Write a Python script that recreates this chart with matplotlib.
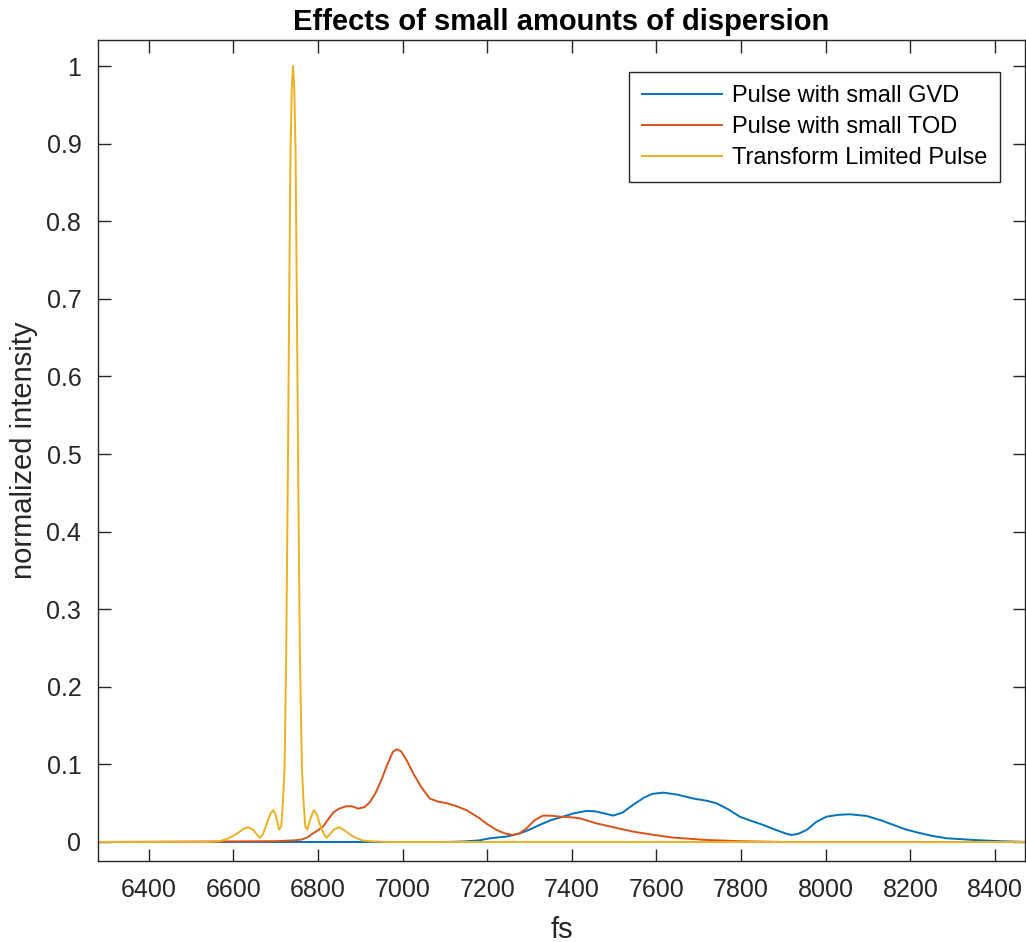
import numpy as np
import matplotlib
matplotlib.use("Agg")
from matplotlib import pyplot as plt

plt.rcParams['font.family'] = ['Liberation Sans', 'DejaVu Sans']

# values (fs, normalized intensity)
t_tl = [6280, 6540, 6568, 6585, 6599, 6612, 6624, 6635, 6646, 6655, 6662,
        6670, 6680, 6688, 6694, 6700, 6708, 6713, 6717, 6721, 6725, 6729,
        6732, 6735, 6738, 6741, 6744, 6747, 6750, 6753, 6757, 6762, 6766,
        6770, 6775, 6782, 6790, 6797, 6806, 6814, 6820, 6828, 6838,
        6850, 6860, 6870, 6880, 6891, 6905, 6922, 6960, 8480]
i_tl = [0, 0, 0.001, 0.004, 0.0077, 0.012, 0.017, 0.019, 0.016, 0.01, 0.0055,
        0.01, 0.025, 0.037, 0.041, 0.035, 0.016, 0.02, 0.05, 0.095, 0.25, 0.49,
        0.7, 0.89, 0.97, 1.0, 0.97, 0.89, 0.7, 0.49, 0.25, 0.095, 0.05,
        0.02, 0.016, 0.03, 0.041, 0.036, 0.02, 0.01, 0.0055, 0.01, 0.016,
        0.019, 0.016, 0.012, 0.008, 0.005, 0.002, 0.001, 0, 0]

t_tod = [6280, 6700, 6740, 6761, 6775, 6788, 6800, 6812, 6824, 6836, 6850,
         6867, 6880, 6895, 6910, 6922, 6936, 6950, 6964, 6977, 6986, 6996,
         7010, 7025, 7045, 7064, 7084, 7104, 7128, 7151, 7182, 7200, 7222,
         7242, 7261, 7276, 7293, 7312, 7332, 7352, 7372, 7395, 7419, 7458,
         7498, 7545, 7600, 7640, 7718, 7797, 7900, 8480]
i_tod = [0, 0.001, 0.002, 0.003, 0.006, 0.011, 0.015, 0.02, 0.029, 0.038,
         0.043, 0.046, 0.046, 0.043, 0.045, 0.051, 0.063, 0.08, 0.1, 0.116,
         0.1195, 0.117, 0.105, 0.0885, 0.07, 0.056, 0.052, 0.05, 0.046, 0.041,
         0.0305, 0.023, 0.0155, 0.011, 0.009, 0.011, 0.0176, 0.028, 0.034,
         0.0338, 0.0326, 0.032, 0.0305, 0.024, 0.019, 0.0133, 0.0086, 0.0056,
         0.0026, 0.001, 0, 0]

t_gvd = [6280, 7100, 7142, 7180, 7206, 7246, 7277, 7300, 7324, 7350, 7379,
         7405, 7435, 7455, 7475, 7498, 7520, 7545, 7570, 7590, 7616, 7650,
         7687, 7720, 7742, 7770, 7797, 7825, 7852, 7880, 7905, 7919, 7935,
         7955, 7978, 8002, 8030, 8057, 8097, 8130, 8160, 8190, 8215, 8250,
         8286, 8349, 8412, 8480]
i_gvd = [0, 0, 0.0006, 0.002, 0.0047, 0.007, 0.011, 0.016, 0.022, 0.028,
         0.0326, 0.037, 0.040, 0.0395, 0.037, 0.034, 0.038, 0.048, 0.057,
         0.062, 0.0636, 0.061, 0.056, 0.053, 0.0498, 0.042, 0.0326, 0.027,
         0.022, 0.016, 0.011, 0.009, 0.0105, 0.0155, 0.026, 0.0326, 0.035,
         0.0357, 0.0335, 0.028, 0.022, 0.016, 0.0125, 0.008, 0.0048, 0.0026,
         0.001, 0]

fig = plt.figure(figsize=(10.26, 9.42), dpi=100)
ax = fig.add_axes([0.0955, 0.086, 0.9035, 0.8715])

ax.plot(t_gvd, i_gvd, color="#0072BD", lw=1.4, label="Pulse with small GVD")
ax.plot(t_tod, i_tod, color="#D95319", lw=1.4, label="Pulse with small TOD")
ax.plot(t_tl, i_tl, color="#EDB120", lw=1.4, label="Transform Limited Pulse")

ax.set_xlim(6280, 8471)
ax.set_ylim(-0.0245, 1.0335)
ax.set_xticks(np.arange(6400, 8401, 200))
yt = np.arange(0, 1.01, 0.1)
ax.set_yticks(yt)
ax.set_yticklabels(["0"] + ["{:.1f}".format(v) for v in yt[1:-1]] + ["1"])

ax.tick_params(direction="in", length=9, width=1.0, top=True, right=True,
               labelsize=18, colors="#262626", pad=12)
for s in ax.spines.values():
    s.set_color("#262626")
    s.set_linewidth(1.0)

ax.set_xlabel("fs", fontsize=21, color="#262626", labelpad=10)
ax.set_ylabel("normalized intensity", fontsize=21, color="#262626", labelpad=6)
ax.set_title("Effects of small amounts of dispersion", fontsize=21,
             fontweight="bold", pad=7)

leg = ax.legend(loc="upper right", bbox_to_anchor=(0.973, 0.961), fontsize=17,
                fancybox=False, edgecolor="#262626", framealpha=1,
                handlelength=3.4, borderpad=0.55, labelspacing=0.38,
                handletextpad=0.4, borderaxespad=0)
leg.get_frame().set_linewidth(1.0)

plt.savefig("out.png", dpi=100)
